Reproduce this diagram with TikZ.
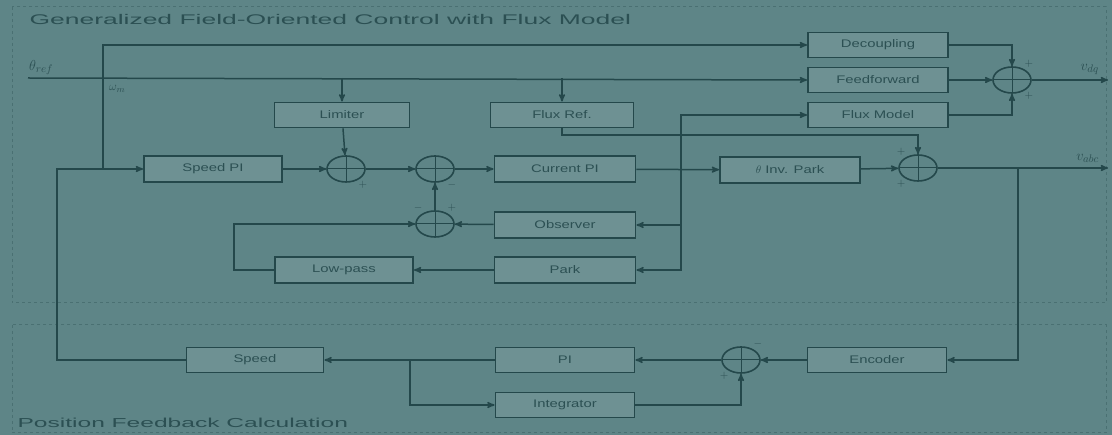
\documentclass[tikz,border=0pt]{standalone}
\usepackage{fontspec}
\setmainfont{Liberation Sans}[FakeStretch=1.35]
\usetikzlibrary{arrows,shapes.geometric}
\definecolor{bgteal}{RGB}{94,133,135}
\definecolor{wirec}{RGB}{36,72,75}
\definecolor{ink}{RGB}{44,80,83}
\definecolor{framec}{RGB}{74,112,114}
\newcommand{\widetext}[1]{\scalebox{1.4}[1]{#1}}

\begin{document}
\begin{tikzpicture}[x=1pt,y=-1pt,>=stealth',
   block/.style={draw=wirec,line width=1.8pt,fill=bgteal!90!white,minimum width=138pt,
      minimum height=26pt,inner sep=1pt,text=ink,font=\fontsize{11}{12}\selectfont},
   sumnode/.style={draw=wirec,line width=1.6pt,ellipse,minimum width=38pt,minimum height=26pt,
      inner sep=0pt,path picture={\draw[wirec,line width=1pt]
        (path picture bounding box.north) -- (path picture bounding box.south)
        (path picture bounding box.west) -- (path picture bounding box.east);}},
   link/.style={draw=wirec,line width=1.5pt,->},
   sign/.style={text=ink,font=\fontsize{11}{11}\selectfont,inner sep=1pt},
   every label/.style={sign}]
\useasboundingbox (0,0) rectangle (1112,435);
\fill[bgteal] (0,0) rectangle (1112,435);
\draw[framec,dashed,line width=1pt] (12,7) rectangle (1106,303);
\draw[framec,dashed,line width=1pt] (12,325) rectangle (1106,433);
\node[anchor=west,text=ink,font=\fontsize{14}{16}\selectfont] (title) at (26,20)
   {\widetext{Generalized Field-Oriented Control with Flux Model}};
\node[anchor=west,text=ink,font=\fontsize{13}{15}\selectfont] (subtitle) at (14,423)
   {\widetext{Position Feedback Calculation}};

% main row
\node[block] (spdpi) at (213,169) {Speed PI};
\node[sumnode,label={[sign]below right:$+$}] (s1) at (346,169) {};
\node[sumnode,label={[sign]below right:$-$}] (s2) at (435,169) {};
\node[block,minimum width=141pt] (curpi) at (565,169) {Current PI};
\node[block,minimum width=140pt] (invpark) at (790,170) {$\theta$ Inv. Park};
\node[sumnode,label={[sign]above left:$+$},label={[sign]below left:$+$}] (s4) at (918,168) {};
% upper blocks
\node[block,minimum width=135pt,minimum height=25pt] (lim) at (342,115) {Limiter};
\node[block,minimum width=143pt,minimum height=25pt] (fluxref) at (562,115) {Flux Ref.};
\node[block,minimum width=140pt,minimum height=25pt] (dec) at (878,45) {Decoupling};
\node[block,minimum width=140pt,minimum height=25pt] (ff) at (878,80) {Feedforward};
\node[block,minimum width=140pt,minimum height=25pt] (fm) at (878,115) {Flux Model};
\node[sumnode,label={[sign]above right:$+$},label={[sign]below right:$+$}] (s5) at (1012,80) {};
% inner loop
\node[sumnode,label={[sign]above right:$+$},label={[sign]above left:$-$}] (s3) at (435,224) {};
\node[block,minimum width=141pt] (obs) at (565,225) {Observer};
\node[block] (lpf) at (344,270) {Low-pass};
\node[block,minimum width=141pt] (park) at (565,270) {Park};
% feedback row
\node[block,minimum width=137pt,minimum height=25pt] (spdcalc) at (255,360) {Speed};
\node[block,minimum width=139pt,minimum height=25pt] (plpi) at (565,360) {PI};
\node[block,minimum width=139pt,minimum height=25pt] (integ) at (565,405) {Integrator};
\node[block,minimum width=139pt,minimum height=25pt] (enc) at (877,360) {Encoder};
\node[sumnode,label={[sign]below left:$+$},label={[sign]above right:$-$}] (s6) at (741,360) {};

\coordinate (inref) at (28,78);
\coordinate (lcorner) at (57,169);
\coordinate (tapA) at (103,169);
\coordinate (tapB) at (681,169);
\coordinate (tapC) at (1018,168);
\coordinate (tapD) at (410,360);
\coordinate (lpcorner) at (234,224);
\coordinate (fwd) at (918,135);
\coordinate (outdq) at (1108,80);
\coordinate (outabc) at (1108,168);

\node[sign,anchor=south west,font=\fontsize{15}{15}\selectfont] at ([yshift=2pt]inref) {$\theta_{ref}$};
\node[sign,anchor=north west,font=\fontsize{13}{13}\selectfont] at (108,84) {$\omega_m$};
\node[sign,anchor=south east,font=\fontsize{15}{15}\selectfont] at (1100,76) {$v_{dq}$};
\node[sign,anchor=south east,font=\fontsize{15}{15}\selectfont] at (1100,164) {$v_{abc}$};

\draw[link] (spdcalc.west) -| (lcorner) -- (spdpi.west);
\draw[link] (tapA) |- (dec.west);
\draw[link] (inref) -- (ff.west);
\draw[link] (lim.north |- inref) -- (lim.north);
\draw[link] (fluxref.north |- inref) -- (fluxref.north);
\draw[link] (lim) -- (s1);
\draw[link] (spdpi) -- (s1);
\draw[link] (s1) -- (s2);
\draw[link] (s2) -- (curpi);
\draw[link] (curpi) -- (invpark);
\draw[link] (invpark) -- (s4);
\draw[link] (s4) -- (outabc);
\draw[link] (fluxref.south) |- (fwd) -- (s4.north);
\draw[link] (tapB) |- (fm.west);
\draw[link] (tapB) |- (obs.east);
\draw[link] (tapB) |- (park.east);
\draw[link] (obs) -- (s3);
\draw[link] (park) -- (lpf);
\draw[link] (lpf.west) -| (lpcorner) -- (s3.west);
\draw[link] (s3) -- (s2);
\draw[link] (dec.east) -| (s5.north);
\draw[link] (ff) -- (s5);
\draw[link] (fm.east) -| (s5.south);
\draw[link] (s5) -- (outdq);
\draw[link] (tapC) |- (enc.east);
\draw[link] (enc) -- (s6);
\draw[link] (s6) -- (plpi);
\draw[link] (plpi.west) -- (spdcalc.east);
\draw[link] (tapD) |- (integ.west);
\draw[link] (integ.east) -| (s6.south);
\end{tikzpicture}
\end{document}
